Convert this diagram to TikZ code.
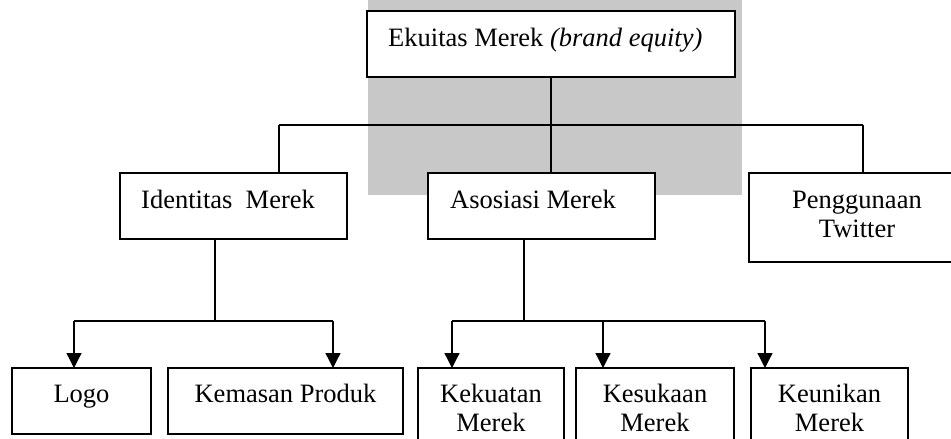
\documentclass[tikz,border=0pt]{standalone}
\usepackage{fontspec}
\setmainfont{Liberation Serif}
\usetikzlibrary{arrows.meta,calc}
\definecolor{wmgray}{RGB}{200,200,200}
\begin{document}
\begin{tikzpicture}[x=1pt,y=-1pt,
  box/.style={draw=black, line width=1.3pt, fill=white, anchor=north west, inner sep=0pt, outer sep=0pt},
  lbl/.style={font=\fontsize{26.5}{29.5}\selectfont, inner sep=0pt, anchor=base west},
  lblc/.style={font=\fontsize{26.5}{29.5}\selectfont, inner sep=0pt, anchor=base},
  conn/.style={line width=1.3pt},
  arr/.style={line width=1.3pt, -{Triangle[width=15pt,length=15pt]}}]
\useasboundingbox (0,0) rectangle (951,439);
\fill[white] (0,0) rectangle (951,439);
\clip (0,0) rectangle (951,439);
\fill[wmgray] (368,0) rectangle (742,195);

% boxes
\node[box, minimum width=368pt, minimum height=66pt] (e) at (367,11) {};
\node[box, minimum width=227pt, minimum height=66pt] (idn) at (120,173) {};
\node[box, minimum width=227pt, minimum height=66pt] (aso) at (428,173) {};
\node[box, minimum width=216pt, minimum height=89pt] (tw) at (749,173) {};
\node[box, minimum width=139pt, minimum height=66pt] (logo) at (12,368) {};
\node[box, minimum width=235pt, minimum height=66pt] (kem) at (168,368) {};
\node[box, minimum width=146pt, minimum height=90pt] (kek) at (418,368) {};
\node[box, minimum width=158pt, minimum height=90pt] (kes) at (576,368) {};
\node[box, minimum width=157pt, minimum height=90pt] (keu) at (751,368) {};

% texts
\node[lbl] (te) at ($(e.north west)+(21,35)$) {Ekuitas Merek \textit{(brand equity)}};
\node[lbl] (tidn) at ($(idn.north west)+(21,35)$) {Identitas\ \ Merek};
\node[lbl] (taso) at ($(aso.north west)+(22,35)$) {Asosiasi Merek};
\node[lblc] (ttw) at ($(tw.north)+(0,35)$) {\setlength{\tabcolsep}{0pt}\begin{tabular}[t]{c}Penggunaan\\Twitter\end{tabular}};
\node[lblc] (tlogo) at ($(logo.north)+(0,34)$) {Logo};
\node[lblc] (tkem) at ($(kem.north)+(0,34)$) {Kemasan Produk};
\node[lblc] (tkek) at ($(kek.north)+(0,34)$) {\setlength{\tabcolsep}{0pt}\begin{tabular}[t]{c}Kekuatan\\Merek\end{tabular}};
\node[lblc] (tkes) at ($(kes.north)+(0,34)$) {\setlength{\tabcolsep}{0pt}\begin{tabular}[t]{c}Kesukaan\\Merek\end{tabular}};
\node[lblc] (tkeu) at ($(keu.north)+(0,34)$) {\setlength{\tabcolsep}{0pt}\begin{tabular}[t]{c}Keunikan\\Merek\end{tabular}};

% top connectors
\coordinate (ja) at (279,125);
\coordinate (jc) at (863,125);
\draw[conn] (e.south) -- (e.south |- ja);
\draw[conn] (ja) -- (jc);
\draw[conn] (ja) -- (ja |- idn.north);
\draw[conn] (e.south |- ja) -- (e.south |- aso.north);
\draw[conn] (jc) -- (jc |- tw.north);

% identitas branch
\coordinate (ib) at (215,321);
\coordinate (il) at (74,321);
\coordinate (ir) at (333,321);
\draw[conn] (ib |- idn.south) -- (ib);
\draw[conn] (il) -- (ir);
\draw[arr] (il) -- (il |- logo.north);
\draw[arr] (ir) -- (ir |- kem.north);

% asosiasi branch
\coordinate (ab) at (524,321);
\coordinate (al) at (452,321);
\coordinate (am) at (603,321);
\coordinate (ar) at (765,321);
\draw[conn] (ab |- aso.south) -- (ab);
\draw[conn] (al) -- (ar);
\draw[arr] (al) -- (al |- kek.north);
\draw[arr] (am) -- (am |- kes.north);
\draw[arr] (ar) -- (ar |- keu.north);
\end{tikzpicture}
\end{document}
